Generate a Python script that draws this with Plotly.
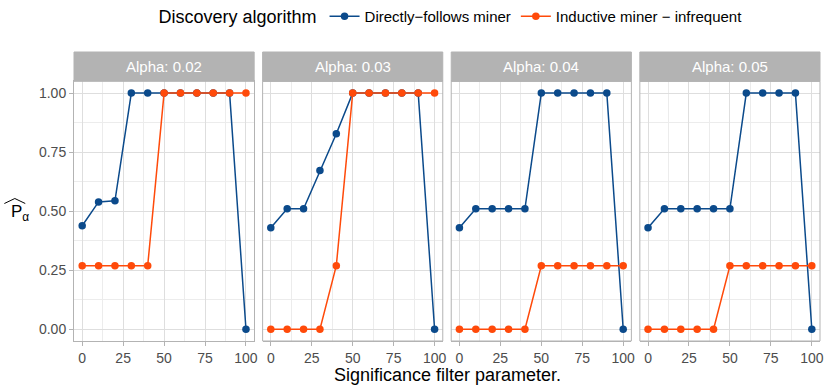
import plotly.graph_objects as go

# ---- data ----
significance = [0, 10, 20, 30, 40, 50, 60, 70, 80, 90, 100]
alphas = ["0.02", "0.03", "0.04", "0.05"]
series_names = ["Directly\u2212follows miner", "Inductive miner \u2212 infrequent"]

dfm_002 = [0.438, 0.539, 0.544, 1, 1, 1, 1, 1, 1, 1, 0]
dfm_003 = [0.43, 0.51, 0.51, 0.672, 0.828, 1, 1, 1, 1, 1, 0]
dfm_004 = [0.43, 0.51, 0.51, 0.51, 0.51, 1, 1, 1, 1, 1, 0]
dfm_005 = [0.43, 0.51, 0.51, 0.51, 0.51, 0.51, 1, 1, 1, 1, 0]

imf_002 = [0.269, 0.269, 0.269, 0.269, 0.269, 1, 1, 1, 1, 1, 1]
imf_003 = [0, 0, 0, 0, 0.269, 1, 1, 1, 1, 1, 1]
imf_004 = [0, 0, 0, 0, 0, 0.269, 0.269, 0.269, 0.269, 0.269, 0.269]
imf_005 = [0, 0, 0, 0, 0, 0.269, 0.269, 0.269, 0.269, 0.269, 0.269]

dfm_all = [dfm_002, dfm_003, dfm_004, dfm_005]
imf_all = [imf_002, imf_003, imf_004, imf_005]

x_ticks = [0, 25, 50, 75, 100]
y_ticks = [0, 0.25, 0.5, 0.75, 1.0]
y_ticklabels = ["0.00", "0.25", "0.50", "0.75", "1.00"]

colors = ["#0b4a8b", "#ff4a0a"]
FONT = "Liberation Sans, Arial, Helvetica, sans-serif"

W, H = 829, 389
ML, MR, MT, MB = 74, 5, 52, 48
PW = W - ML - MR
PH = H - MT - MB
panel_top = 259.7 / PH  # y domain top (strip above)

gap = 8.5 / PW
pw = (1 - 3 * gap) / 4
domains = [[i * (pw + gap), i * (pw + gap) + pw] for i in range(4)]

fig = go.Figure()

for i, a in enumerate(alphas):
    xa = "x" if i == 0 else f"x{i+1}"
    for j, vals in enumerate([dfm_all[i], imf_all[i]]):
        fig.add_trace(go.Scatter(
            x=significance, y=vals, xaxis=xa, yaxis="y",
            mode="lines+markers",
            line=dict(color=colors[j], width=1.5),
            marker=dict(color=colors[j], size=7.5),
            name=series_names[j], legendgroup=series_names[j],
            showlegend=(i == 0),
        ))

grid_major = "#dedede"
grid_minor = "#ececec"
border = "#b3b3b3"
TICKFONT = dict(family=FONT, size=14, color="#4d4d4d")

axis_common = dict(
    range=[-5, 105], tickvals=x_ticks, ticktext=[str(v) for v in x_ticks],
    showgrid=True, gridcolor=grid_major, gridwidth=1,
    minor=dict(dtick=12.5, tick0=12.5, showgrid=True, gridcolor=grid_minor, gridwidth=0.6, ticks=""),
    showline=True, linecolor=border, linewidth=1, mirror=True,
    ticks="outside", ticklen=4, tickcolor=border, tickwidth=1,
    tickfont=TICKFONT,
    zeroline=False, anchor="y", fixedrange=True,
)

layout = dict(
    width=W, height=H,
    margin=dict(l=ML, r=MR, t=MT, b=MB),
    paper_bgcolor="white", plot_bgcolor="white",
    font=dict(family=FONT),
    yaxis=dict(
        domain=[0, panel_top], range=[-0.05, 1.05],
        tickvals=y_ticks, ticktext=y_ticklabels,
        showgrid=True, gridcolor=grid_major, gridwidth=1,
        minor=dict(dtick=0.25, tick0=0.125, showgrid=True, gridcolor=grid_minor, gridwidth=0.6, ticks=""),
        showline=True, linecolor=border, linewidth=1, mirror=True,
        ticks="outside", ticklen=4, tickcolor=border, tickwidth=1,
        tickfont=TICKFONT,
        zeroline=False, anchor="x", fixedrange=True,
    ),
    showlegend=True,
    legend=dict(
        orientation="h", xref="container", yref="container",
        x=452 / W, xanchor="center", y=1.0, yanchor="top",
        title=dict(text="Discovery algorithm", font=dict(family=FONT, size=18, color="black")),
        font=dict(family=FONT, size=15, color="black"),
        itemwidth=30, tracegroupgap=0,
        bgcolor="rgba(0,0,0,0)",
    ),
)

for i in range(4):
    key = "xaxis" if i == 0 else f"xaxis{i+1}"
    ax = dict(axis_common)
    ax["domain"] = domains[i]
    layout[key] = ax

fig.update_layout(**layout)

shapes = []
annotations = []
for i, a in enumerate(alphas):
    d0, d1 = domains[i]
    if i > 0:
        shapes.append(dict(type="rect", xref="paper", yref="paper", x0=d0, x1=d1, y0=0, y1=panel_top,
                           line=dict(color=border, width=1), fillcolor="rgba(0,0,0,0)", layer="above"))
    shapes.append(dict(type="rect", xref="paper", yref="paper", x0=d0, x1=d1, y0=panel_top, y1=1.0,
                       line=dict(color=border, width=1), fillcolor=border, layer="above"))
    annotations.append(dict(text=f"Alpha: {a}", xref="paper", yref="paper",
                            x=(d0 + d1) / 2, y=(panel_top + 1) / 2, xanchor="center", yanchor="middle",
                            showarrow=False, font=dict(family=FONT, size=15, color="white")))

# x axis title
annotations.append(dict(text="Significance filter parameter.", xref="paper", yref="paper",
                        x=0.5, y=(PH - (375 - MT)) / PH, xanchor="center", yanchor="middle",
                        showarrow=False, font=dict(family=FONT, size=18, color="black")))

def px_to_paper(px, py):
    return (px - ML) / PW, (H - MB - py) / PH

tx, ty = px_to_paper(20, 213)
annotations.append(dict(text="P<sub>\u03b1</sub>", xref="paper", yref="paper",
                        x=tx, y=ty, xanchor="center", yanchor="middle",
                        showarrow=False, font=dict(family=FONT, size=17, color="black")))
p1 = px_to_paper(4, 203.5)
p2 = px_to_paper(14.5, 198.5)
p3 = px_to_paper(25, 203.5)
shapes.append(dict(type="path", xref="paper", yref="paper",
                   path=f"M {p1[0]},{p1[1]} L {p2[0]},{p2[1]} L {p3[0]},{p3[1]}",
                   line=dict(color="black", width=1)))

fig.update_layout(shapes=shapes, annotations=annotations)

fig.write_html("out.html", config={"displayModeBar": False},
               post_script="document.body.style.margin='0';")
